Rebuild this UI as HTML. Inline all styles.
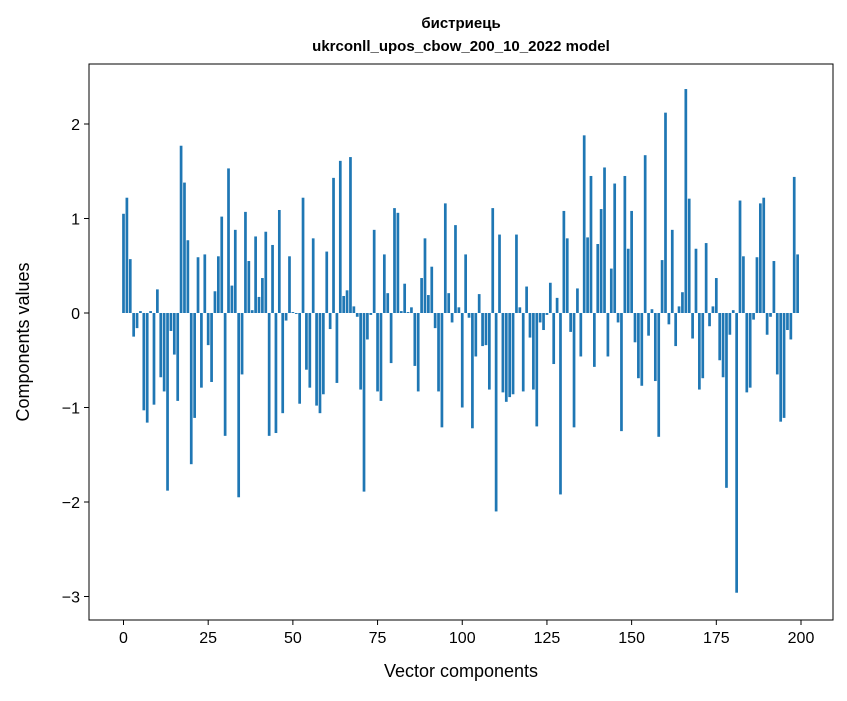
<!DOCTYPE html>
<html><head><meta charset="utf-8"><style>
body{margin:0;background:#fff;font-family:"Liberation Sans","DejaVu Sans",sans-serif}
</style></head><body>
<svg id="chart" width="847" height="696" xmlns="http://www.w3.org/2000/svg" font-family="'Liberation Sans','DejaVu Sans',sans-serif">
<rect width="847" height="696" fill="#fff"/>
<text x="461" y="28" text-anchor="middle" font-size="15" font-weight="bold">бистриець</text>
<text x="461" y="51" text-anchor="middle" font-size="15" font-weight="bold">ukrconll_upos_cbow_200_10_2022 model</text>
<g id="bars"></g>
<g id="axes"></g>
<text x="461" y="677" text-anchor="middle" font-size="18">Vector components</text>
<text x="29" y="342" text-anchor="middle" font-size="18" transform="rotate(-90 29 342)">Components values</text>
</svg>
<script>
const values = [1.05,1.22,0.57,-0.25,-0.16,0.02,-1.03,-1.16,0.02,-0.97,
0.25,-0.68,-0.83,-1.88,-0.19,-0.44,-0.93,1.77,1.38,0.77,
-1.6,-1.11,0.59,-0.79,0.62,-0.34,-0.73,0.23,0.60,1.02,
-1.30,1.53,0.29,0.88,-1.95,-0.65,1.07,0.55,0.03,0.81,
0.17,0.37,0.86,-1.30,0.72,-1.27,1.09,-1.06,-0.08,0.60,
0.01,-0.01,-0.96,1.22,-0.60,-0.79,0.79,-0.98,-1.06,-0.86,
0.65,-0.17,1.43,-0.74,1.61,0.18,0.24,1.65,0.07,-0.04,
-0.81,-1.89,-0.28,-0.02,0.88,-0.83,-0.93,0.62,0.21,-0.53,
1.11,1.06,0.02,0.31,0.01,0.06,-0.56,-0.83,0.37,0.79,
0.19,0.49,-0.16,-0.83,-1.21,1.16,0.21,-0.10,0.93,0.06,
-1.00,0.62,-0.05,-1.22,-0.46,0.20,-0.35,-0.34,-0.81,1.11,
-2.10,0.83,-0.84,-0.94,-0.89,-0.86,0.83,0.06,-0.83,0.28,
-0.26,-0.81,-1.20,-0.10,-0.18,-0.02,0.32,-0.54,0.16,-1.92,
1.08,0.79,-0.20,-1.21,0.26,-0.46,1.88,0.80,1.45,-0.57,
0.73,1.10,1.54,-0.46,0.47,1.37,-0.10,-1.25,1.45,0.68,
1.08,-0.31,-0.69,-0.77,1.67,-0.24,0.04,-0.72,-1.31,0.56,
2.12,-0.12,0.88,-0.35,0.07,0.22,2.37,1.21,-0.27,0.68,
-0.81,-0.69,0.74,-0.14,0.07,0.37,-0.50,-0.68,-1.85,-0.23,
0.03,-2.96,1.19,0.60,-0.84,-0.79,-0.07,0.59,1.16,1.22,
-0.23,-0.04,0.55,-0.65,-1.15,-1.11,-0.18,-0.28,1.44,0.62];
const xTicks = [0,25,50,75,100,125,150,175,200];
const yTicks = [-3,-2,-1,0,1,2];
const NS="http://www.w3.org/2000/svg";
const L=89,R=833,T=64,B=620;
const xs=v=>123.5+v*3.3875;
const ys=v=>313-v*94.5;
const bars=document.getElementById('bars');
values.forEach((v,i)=>{
  const r=document.createElementNS(NS,'rect');
  
  
  const w=0.8*3.3875;
  r.setAttribute('x',xs(i)-w/2);
  r.setAttribute('width',w);
  r.setAttribute('y',Math.min(ys(v),ys(0)));
  r.setAttribute('height',Math.abs(ys(v)-ys(0)));
  r.setAttribute('fill','#1f77b4');
  bars.appendChild(r);
});
const ax=document.getElementById('axes');
const fr=document.createElementNS(NS,'rect');


fr.setAttribute('x',L);fr.setAttribute('y',T);fr.setAttribute('width',R-L);fr.setAttribute('height',B-T);
fr.setAttribute('fill','none');fr.setAttribute('stroke','#000');fr.setAttribute('stroke-width','1');
ax.appendChild(fr);
xTicks.forEach(t=>{
  const l=document.createElementNS(NS,'line');
  
  
  l.setAttribute('x1',xs(t));l.setAttribute('x2',xs(t));l.setAttribute('y1',B);l.setAttribute('y2',B+5);l.setAttribute('stroke','#000');
  ax.appendChild(l);
  const tx=document.createElementNS(NS,'text');
  
  
  tx.setAttribute('x',xs(t));tx.setAttribute('y',B+23);tx.setAttribute('text-anchor','middle');tx.setAttribute('font-size','16');
  tx.textContent=t;ax.appendChild(tx);
});
yTicks.forEach(t=>{
  const l=document.createElementNS(NS,'line');
  
  
  l.setAttribute('x1',L-5);l.setAttribute('x2',L);l.setAttribute('y1',ys(t));l.setAttribute('y2',ys(t));l.setAttribute('stroke','#000');
  ax.appendChild(l);
  const tx=document.createElementNS(NS,'text');
  
  
  tx.setAttribute('x',L-9);tx.setAttribute('y',ys(t)+6);tx.setAttribute('text-anchor','end');tx.setAttribute('font-size','16');
  tx.textContent=t<0?'\u2212'+(-t):t;ax.appendChild(tx);
});
</script>
</body></html>
